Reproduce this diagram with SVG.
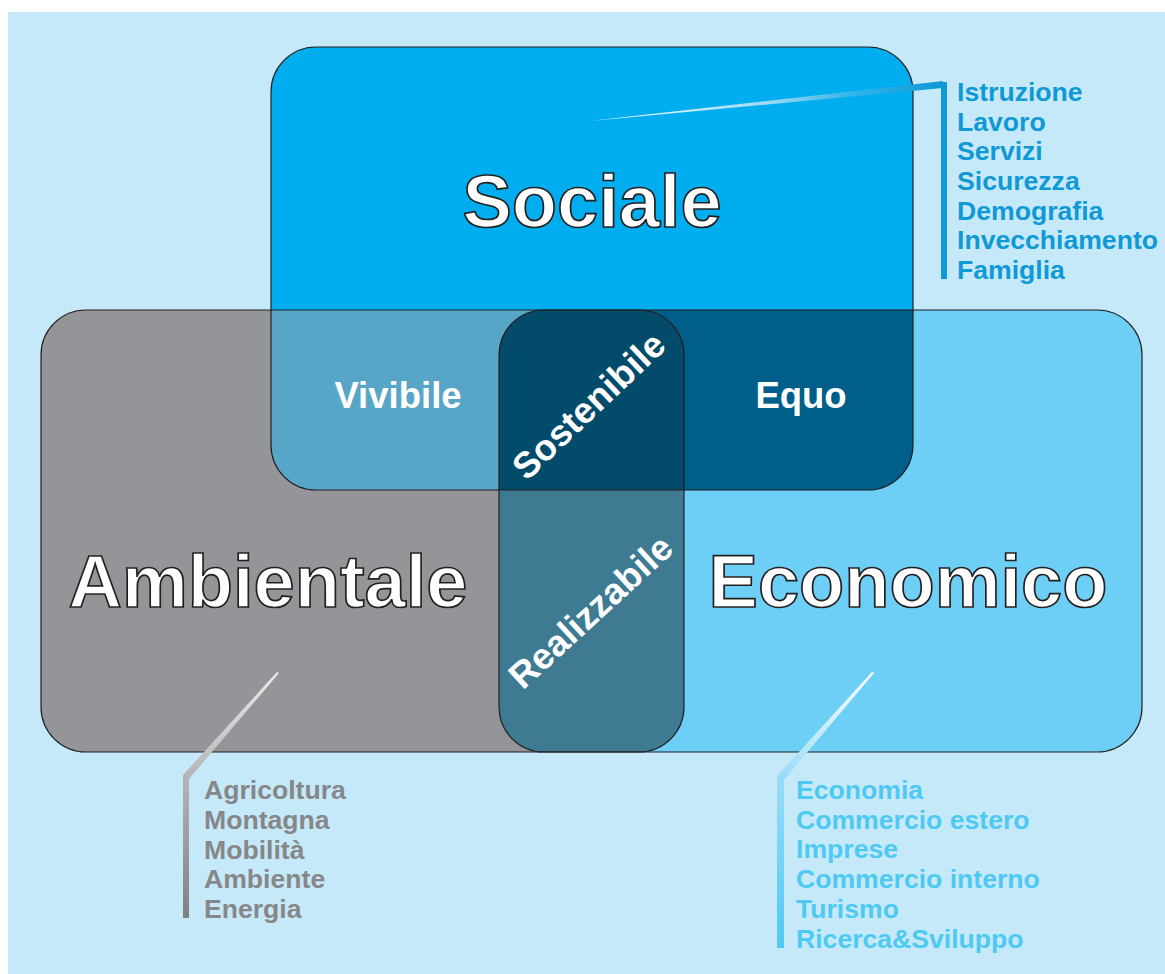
<svg xmlns="http://www.w3.org/2000/svg" width="1165" height="974" viewBox="0 0 1165 974">
<style>
.big{font-family:"Liberation Sans",Arial,sans-serif;font-weight:bold;font-size:74px;fill:#ffffff;stroke:#231f20;stroke-width:1.7px;text-anchor:middle}
.mid{font-family:"Liberation Sans",Arial,sans-serif;font-weight:bold;font-size:36.5px;fill:#ffffff;text-anchor:middle}
.list{font-family:"Liberation Sans",Arial,sans-serif;font-weight:bold;font-size:26.6px}
.outline{fill:none;stroke:#231f20;stroke-width:1.2px}
</style>
<defs>
<rect id="rS" x="271" y="47" width="642" height="443" rx="45" ry="45"/>
<rect id="rA" x="41" y="310" width="643" height="442" rx="45" ry="45"/>
<rect id="rE" x="499" y="310" width="643" height="442" rx="45" ry="45"/>
<clipPath id="cS"><use href="#rS"/></clipPath>
<clipPath id="cE"><use href="#rE"/></clipPath>
<linearGradient id="gTop" gradientUnits="userSpaceOnUse" x1="590" y1="0" x2="943" y2="0">
<stop offset="0" stop-color="#ffffff"/>
<stop offset="0.5" stop-color="#9fdaf3"/>
<stop offset="0.75" stop-color="#2fb4ea"/>
<stop offset="1" stop-color="#0f99d6"/>
</linearGradient>
<linearGradient id="gLeft" gradientUnits="userSpaceOnUse" x1="0" y1="672" x2="0" y2="918">
<stop offset="0" stop-color="#ececec"/>
<stop offset="0.42" stop-color="#b3b5b7"/>
<stop offset="1" stop-color="#7e8082"/>
</linearGradient>
<linearGradient id="gRight" gradientUnits="userSpaceOnUse" x1="0" y1="672" x2="0" y2="948">
<stop offset="0" stop-color="#ffffff"/>
<stop offset="0.38" stop-color="#9adcf7"/>
<stop offset="1" stop-color="#4ec9f4"/>
</linearGradient>
</defs>

<rect x="0" y="0" width="1165" height="974" fill="#ffffff"/>
<rect x="8" y="12" width="1157" height="962" fill="#c6e9f9"/>

<g id="ambientale">
<use href="#rA" fill="#939598"/>
</g>
<g id="economico">
<use href="#rE" fill="#6dcff6"/>
</g>
<g id="sociale">
<use href="#rS" fill="#00aeef"/>
</g>
<g id="vivibile">
<use href="#rA" fill="#58a6c7" clip-path="url(#cS)"/>
</g>
<g id="equo">
<use href="#rE" fill="#005e8a" clip-path="url(#cS)"/>
</g>
<g id="realizzabile">
<use href="#rA" fill="#3e7b93" clip-path="url(#cE)"/>
</g>
<g id="sostenibile">
<g clip-path="url(#cS)"><use href="#rA" fill="#034b6a" clip-path="url(#cE)"/></g>
</g>
<g id="outlines">
<use href="#rA" class="outline"/>
<use href="#rE" class="outline"/>
<use href="#rS" class="outline"/>
</g>

<g id="connectors">
<polygon points="590,121 943,81 943,88" fill="url(#gTop)"/>
<rect x="941" y="82" width="6" height="197" fill="#0f99d6"/>
<polygon points="277,672 183,775 183,918 189,918 189,779 279,673" fill="url(#gLeft)"/>
<polygon points="872,672 777,776 777,948 784,948 784,780 874,673" fill="url(#gRight)"/>
</g>

<g id="labels">
<text class="big" x="592" y="227">Sociale</text>
<text class="big" x="268" y="607">Ambientale</text>
<text class="big" x="908" y="607">Economico</text>
<text class="mid" x="398" y="408">Vivibile</text>
<text class="mid" x="801" y="408">Equo</text>
<text class="mid" transform="translate(589,406) rotate(-43.5)" x="0" y="12">Sostenibile</text>
<text class="mid" transform="translate(591,612) rotate(-42.5)" x="0" y="12">Realizzabile</text>
</g>

<g id="list-sociale" class="list" fill="#0f99d6">
<text x="957" y="101">Istruzione</text>
<text x="957" y="130.7">Lavoro</text>
<text x="957" y="160.3">Servizi</text>
<text x="957" y="190">Sicurezza</text>
<text x="957" y="219.7">Demografia</text>
<text x="957" y="249.3">Invecchiamento</text>
<text x="957" y="279">Famiglia</text>
</g>
<g id="list-ambientale" class="list" fill="#858789">
<text x="204" y="799">Agricoltura</text>
<text x="204" y="828.7">Montagna</text>
<text x="204" y="858.5">Mobilità</text>
<text x="204" y="888.2">Ambiente</text>
<text x="204" y="918">Energia</text>
</g>
<g id="list-economico" class="list" fill="#4ec9f4">
<text x="796" y="799">Economia</text>
<text x="796" y="828.7">Commercio estero</text>
<text x="796" y="858.4">Imprese</text>
<text x="796" y="888.1">Commercio interno</text>
<text x="796" y="917.8">Turismo</text>
<text x="796" y="947.5">Ricerca&amp;Sviluppo</text>
</g>
</svg>
